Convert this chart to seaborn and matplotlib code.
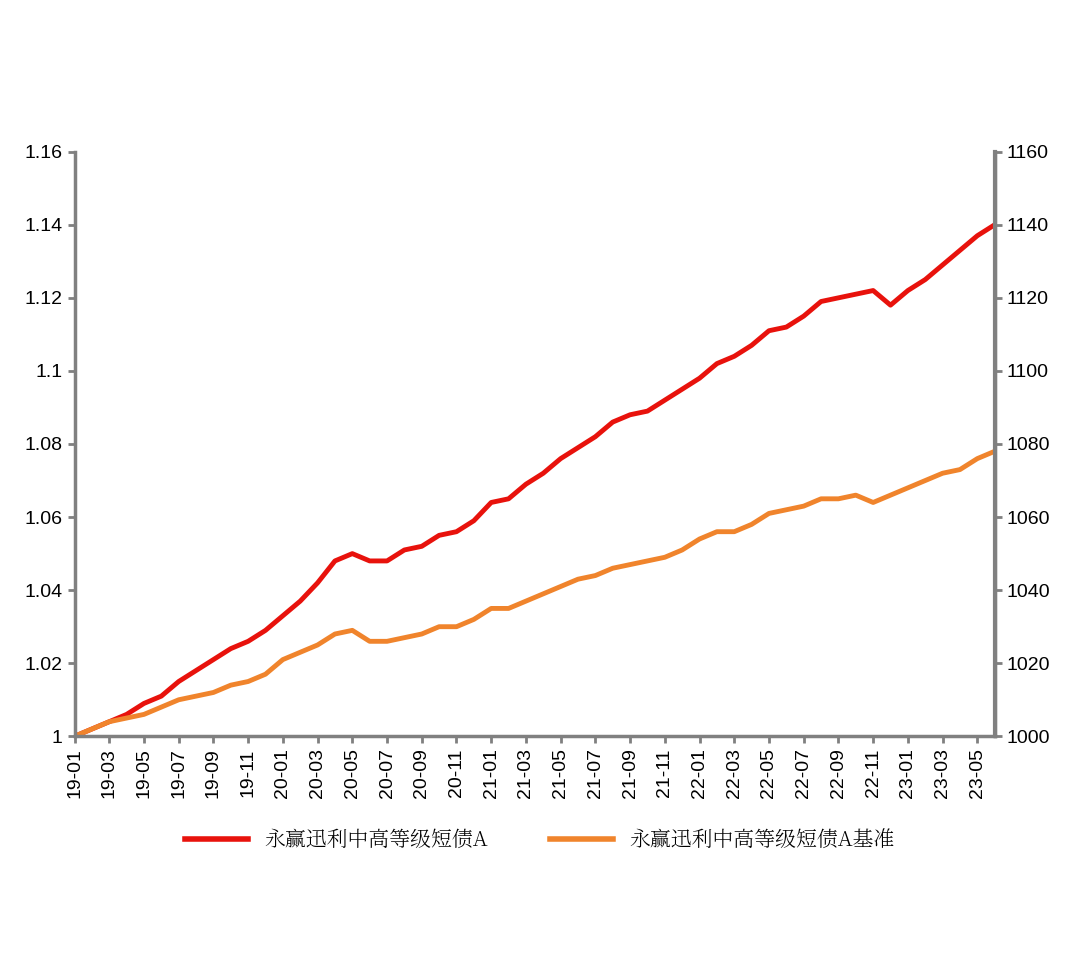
import matplotlib
matplotlib.use("Agg")
import matplotlib.pyplot as plt
from matplotlib import font_manager
import seaborn as sns
import pandas as pd

months = [f"{y:02d}-{m:02d}" for y in range(19, 24) for m in range(1, 13)][:54]
fund = [1.000,1.002,1.004,1.006,1.009,1.011,1.015,1.018,1.021,1.024,1.026,1.029,
        1.033,1.037,1.042,1.048,1.050,1.048,1.048,1.051,1.052,1.055,1.056,1.059,
        1.064,1.065,1.069,1.072,1.076,1.079,1.082,1.086,1.088,1.089,1.092,1.095,
        1.098,1.102,1.104,1.107,1.111,1.112,1.115,1.119,1.120,1.121,1.122,1.118,
        1.122,1.125,1.129,1.133,1.137,1.140]
bench = [1.000,1.002,1.004,1.005,1.006,1.008,1.010,1.011,1.012,1.014,1.015,1.017,
         1.021,1.023,1.025,1.028,1.029,1.026,1.026,1.027,1.028,1.030,1.030,1.032,
         1.035,1.035,1.037,1.039,1.041,1.043,1.044,1.046,1.047,1.048,1.049,1.051,
         1.054,1.056,1.056,1.058,1.061,1.062,1.063,1.065,1.065,1.066,1.064,1.066,
         1.068,1.070,1.072,1.073,1.076,1.078]
names = ["永赢迅利中高等级短债A", "永赢迅利中高等级短债A基准"]

cjk = None
for f in font_manager.fontManager.ttflist:
    if "CJK" in f.name and ("SC" in f.name or cjk is None):
        cjk = f
        if "SC" in f.name:
            break
cjk_prop = font_manager.FontProperties(fname=cjk.fname, size=15) if cjk else font_manager.FontProperties(family="Noto Sans CJK SC", size=15)
plt.rcParams["font.family"] = "Liberation Sans"

df = pd.DataFrame({"i": list(range(54)) * 2, "v": fund + bench,
                   "s": [names[0]] * 54 + [names[1]] * 54})

fig = plt.figure(figsize=(10.8, 9.6), dpi=100)
ax = fig.add_axes([0.069, 0.233, 0.852, 0.609])
sns.lineplot(data=df, x="i", y="v", hue="s", palette=["#e8120c", "#f0842c"],
             linewidth=3.5, ax=ax, legend=False)
ax.set_xlim(0, 53)
ax.set_ylim(1.0, 1.16)
ax.set_yticks([1.0, 1.02, 1.04, 1.06, 1.08, 1.1, 1.12, 1.14, 1.16])
ax.set_yticklabels(["1", "1.02", "1.04", "1.06", "1.08", "1.1", "1.12", "1.14", "1.16"], fontsize=14)
ax.set_xticks(range(0, 54, 2))
ax.set_xticklabels(months[0:54:2], rotation=90, fontsize=14)
ax.set_xlabel(""); ax.set_ylabel("")
for s in ["left", "right", "bottom"]:
    ax.spines[s].set_color("#808080")
    ax.spines[s].set_linewidth(2.5)
ax.spines["top"].set_visible(False)
ax.tick_params(colors="#808080", labelcolor="black", width=2, length=5)

ax2 = ax.twinx()
ax2.set_ylim(1000, 1160)
ax2.set_yticks(range(1000, 1161, 20))
ax2.tick_params(labelsize=14, colors="#808080", labelcolor="black", width=2, length=5)
ax2.spines["right"].set_color("#808080"); ax2.spines["right"].set_linewidth(3)
ax2.spines["top"].set_visible(False)
ax2.spines["left"].set_visible(False)
ax2.spines["bottom"].set_visible(False)

from matplotlib.lines import Line2D
handles = [Line2D([], [], color="#e8120c", lw=4), Line2D([], [], color="#f0842c", lw=4)]
fig.legend(handles, names, loc="center", bbox_to_anchor=(0.5, 0.125), ncol=2,
           frameon=False, prop=cjk_prop, handlelength=3, columnspacing=3)
fig.savefig("out.png", dpi=100)
